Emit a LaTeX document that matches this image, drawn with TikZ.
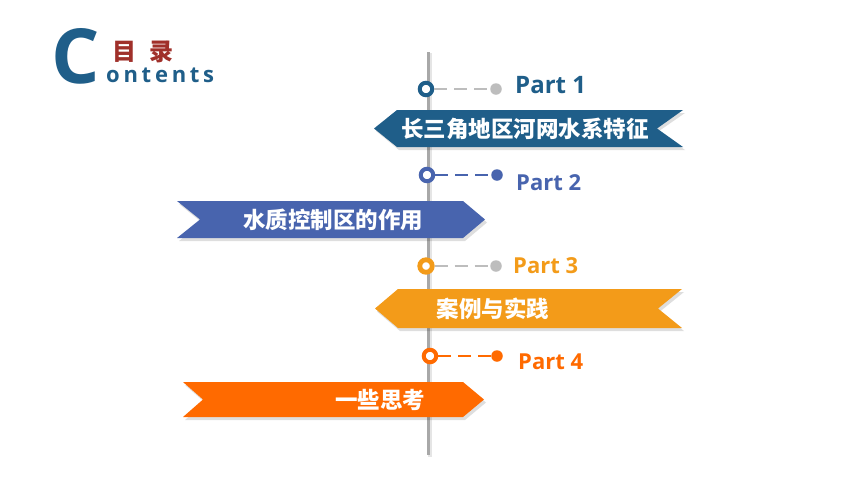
\documentclass[tikz,border=0pt]{standalone}
\usepackage{fontspec}
\setmainfont{Open Sans}
\newfontfamily\cjk{Noto Sans CJK SC}
\definecolor{dkblue}{HTML}{1F5E89}
\definecolor{blueB}{HTML}{4864AE}
\definecolor{orangeC}{HTML}{F39B19}
\definecolor{orangeD}{HTML}{FF6A00}
\definecolor{dkred}{HTML}{A0302A}
\definecolor{lgray}{HTML}{BDBDBD}
\definecolor{vgray}{HTML}{A8A8A8}
\begin{document}
\begin{tikzpicture}[x=1pt,y=-1pt,
  cn/.style={font=\cjk\bfseries\fontsize{22.5}{26}\selectfont, text=white, inner sep=0},
  parttxt/.style={font=\bfseries\fontsize{22}{24}\selectfont, anchor=base west, inner sep=0},
  ring/.style={circle, draw=#1, line width=4pt, fill=white, minimum size=12.5pt, inner sep=0},
  dot/.style={circle, fill=#1, minimum size=11.5pt, inner sep=0},
  conn/.style={draw=#1, line width=2.4pt, dash pattern=on 13pt off 7pt},
  bshadow/.style={fill=black, opacity=0.13},
]
\useasboundingbox (0,0) rectangle (867,483);
\fill[white] (0,0) rectangle (867,483);

% title
\node[font=\bfseries\fontsize{76}{76}\selectfont, text=dkblue, inner sep=0] (C) at (76,56) {C};
\node[font=\cjk\bfseries\fontsize{24}{24}\selectfont, text=dkred, inner sep=0] (mulu) at (143,52) {目\hspace{13pt}录};
\node[font=\bfseries\fontsize{22}{22}\selectfont\addfontfeature{LetterSpace=17}, text=dkblue, anchor=base west, inner sep=0] (cont) at (106,82) {ontents};

% vertical line
\draw[line width=4pt, black!10] (429.5,53) -- (429.5,457);
\draw[line width=3pt, vgray] (428,52) -- (428,455);

% banner 1 (left pointing, right notch)
\fill[bshadow] (399,113) -- (685,113) -- (659,131) -- (685,150) -- (399,150) -- (376,131) -- cycle;
\fill[dkblue] (397,110) -- (683,110) -- (657,128.5) -- (683,147) -- (397,147) -- (374,128.5) -- cycle;
\node[cn] (b1) at (525,128.5) {长三角地区河网水系特征};

% banner 2 (right pointing, left notch)
\fill[bshadow] (179,204) -- (465,204) -- (487,222.5) -- (465,241) -- (179,241) -- (202,222.5) -- cycle;
\fill[blueB] (177,201) -- (463,201) -- (485,219.5) -- (463,238) -- (177,238) -- (200,219.5) -- cycle;
\node[cn] (b2) at (333,219.5) {水质控制区的作用};

% banner 3
\fill[bshadow] (400,292) -- (684,292) -- (660,311.5) -- (684,331) -- (400,331) -- (377,311.5) -- cycle;
\fill[orangeC] (398,289) -- (682,289) -- (658,308.5) -- (682,328) -- (398,328) -- (375,308.5) -- cycle;
\node[cn] (b3) at (493,308.5) {案例与实践};

% banner 4
\fill[bshadow] (185,385) -- (465,385) -- (486,402.5) -- (465,420) -- (185,420) -- (205,402.5) -- cycle;
\fill[orangeD] (183,382) -- (463,382) -- (484,399.5) -- (463,417) -- (183,417) -- (203,399.5) -- cycle;
\node[cn] (b4) at (380,399.5) {一些思考};

% part markers
\node[ring=dkblue] (r1) at (426,89) {};
\node[dot=lgray] (d1) at (496,89) {};
\draw[conn=lgray] (r1) -- (d1);
\node[parttxt, text=dkblue, font=\bfseries\fontsize{24}{26}\selectfont] (p1) at (515,93.5) {Part 1};

\node[ring=blueB] (r2) at (427,175) {};
\node[dot=blueB] (d2) at (497,175) {};
\draw[conn=blueB] (r2) -- (d2);
\node[parttxt, text=blueB] (p2) at (516,190) {Part 2};

\node[ring=orangeC, line width=4.8pt] (r3) at (426,266) {};
\node[dot=lgray] (d3) at (496,266) {};
\draw[conn=lgray] (r3) -- (d3);
\node[parttxt, text=orangeC] (p3) at (513,273) {Part 3};

\node[ring=orangeD] (r4) at (430,356) {};
\node[dot=orangeD] (d4) at (497,356) {};
\draw[conn=orangeD] (r4) -- (d4);
\node[parttxt, text=orangeD] (p4) at (518,369) {Part 4};
\end{tikzpicture}
\end{document}
